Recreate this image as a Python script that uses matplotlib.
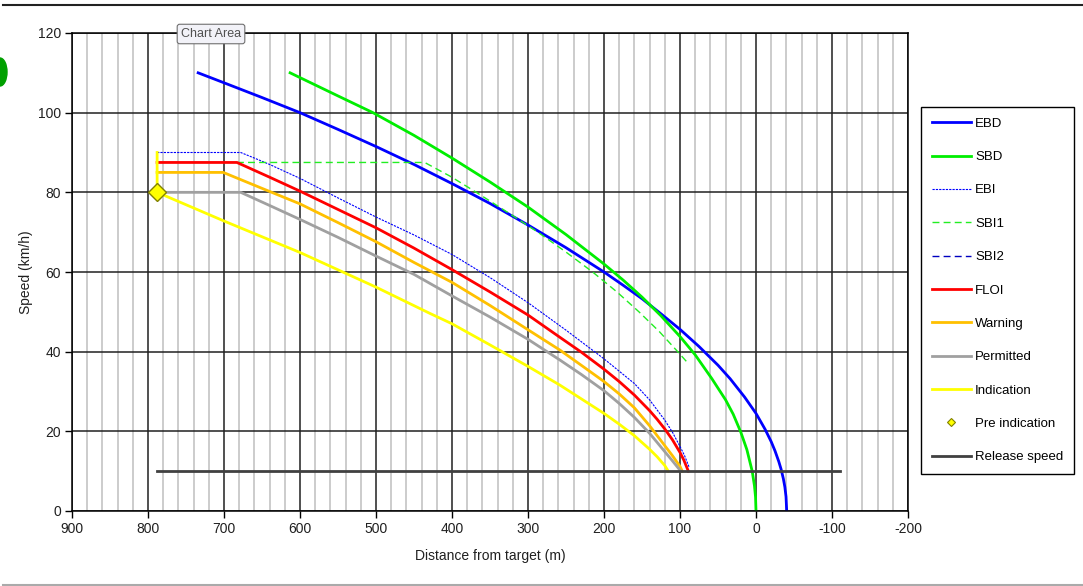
import matplotlib
matplotlib.use("Agg")
import matplotlib.pyplot as plt
from matplotlib.lines import Line2D
from matplotlib.patches import Ellipse
from matplotlib.ticker import MultipleLocator

plt.rcParams['font.family'] = ['Liberation Sans', 'DejaVu Sans']
plt.rcParams['axes.unicode_minus'] = False

# distance from target (m) / speed (km/h)
ebd_d = [734, 700, 650, 600, 550, 500, 450, 400, 350, 300, 250, 200, 175, 150, 125, 100, 75, 50, 34, 15, 0,
         -12, -20, -25, -30, -33, -36, -38, -39.5, -40.4]
ebd_v = [110, 107.5, 103.8, 100, 95.8, 91.5, 87, 82.2, 77.2, 71.8, 66.1, 60, 56.7, 53.3, 49.5, 45.6, 41.3, 36.6, 33.2,
         28.6, 24.5, 20.5, 17.4, 15.1, 12.4, 10.5, 8.1, 6, 3.6, 0]

sbd_d = [613, 600, 550, 504, 450, 400, 350, 300, 250, 200, 175, 150, 125, 100, 80, 58, 40, 30, 20, 12, 5, 2, 0.6, 0]
sbd_v = [110, 108.8, 104.2, 100, 94.3, 88.6, 82.6, 76.3, 69.4, 62, 58, 53.7, 49, 43.8, 39.2, 33.2, 27.9, 24.3, 19.8,
         15.4, 10, 6.3, 3.5, 0]

ebi_d = [788, 678, 660, 640, 600, 550, 500, 450, 400, 350, 300, 250, 200, 180, 160, 140, 120, 110, 100, 94, 88]
ebi_v = [90, 90, 88.6, 87, 83.5, 78.6, 73.8, 69.3, 64.4, 58.6, 52.3, 45.4, 38.2, 35.1, 32, 27.9, 22.8, 19.8, 16.2,
         13.9, 11]

sbi1_d = [683, 436, 402, 368, 327, 287, 250, 215, 183, 154, 127, 103, 89]
sbi1_v = [87.5, 87.5, 84, 80, 75, 70, 65, 60, 55, 50, 45, 40, 37]

sbi2_d = []
sbi2_v = []

floi_d = [788, 683, 640, 600, 550, 500, 450, 400, 350, 300, 258, 230, 200, 180, 160, 140, 130, 120, 110, 100, 95, 89]
floi_v = [87.5, 87.5, 83.8, 80.3, 75.7, 71.1, 66, 60.6, 55, 49.2, 43.6, 39.9, 35.6, 32.5, 29.1, 25.2, 23, 20.6, 17.9,
          14.7, 12.8, 10]

warn_d = [788, 701, 650, 600, 550, 500, 450, 400, 350, 300, 258, 230, 200, 180, 160, 140, 120, 110, 100, 97]
warn_v = [85, 85, 81, 77.1, 72.4, 67.6, 62.4, 57.4, 51.6, 45.5, 40.4, 36.6, 32.5, 29.4, 25.9, 21.4, 16.4, 13.9, 11.2, 10]

perm_d = [788, 678, 640, 600, 550, 500, 450, 400, 350, 300, 258, 230, 200, 180, 160, 140, 120, 110, 99]
perm_v = [80, 80, 76.7, 73.2, 68.7, 64, 59.4, 54, 48.7, 43.1, 37.9, 34.3, 30.2, 27, 23.5, 19.5, 14.9, 12.6, 10]

ind_d = [788, 788, 700, 600, 500, 429, 400, 350, 300, 258, 200, 180, 160, 140, 130, 120, 115.4]
ind_v = [90, 80, 72.8, 64.9, 56.2, 49.6, 47, 41.7, 36.3, 31.6, 24.5, 21.8, 18.9, 15.5, 13.6, 11.4, 10]

preind_d = [788]
preind_v = [80]

release_d = [788, -110]
release_v = [10, 10]

W, H = 1083, 586
fig = plt.figure(figsize=(W / 100, H / 100), dpi=100)
ax = fig.add_axes([72 / W, 75 / H, 836 / W, 478 / H])

lines = []
lines.append(ax.plot(ebd_d, ebd_v, color='#0000ff', lw=2, label='EBD')[0])
lines.append(ax.plot(sbd_d, sbd_v, color='#00ee00', lw=2, label='SBD')[0])
lines.append(ax.plot(ebi_d, ebi_v, color='#0000ff', lw=0.8, ls=(0, (2, 1)), label='EBI')[0])
lines.append(ax.plot(sbi1_d, sbi1_v, color='#22ee22', lw=1, ls=(0, (5, 3)), label='SBI1')[0])
lines.append(ax.plot(sbi2_d, sbi2_v, color='#0000c0', lw=1, ls=(0, (5, 3)), label='SBI2')[0])
lines.append(ax.plot(floi_d, floi_v, color='#ff0000', lw=2, label='FLOI')[0])
lines.append(ax.plot(warn_d, warn_v, color='#ffc000', lw=2, label='Warning')[0])
lines.append(ax.plot(perm_d, perm_v, color='#a0a0a0', lw=2, label='Permitted')[0])
lines.append(ax.plot(ind_d, ind_v, color='#ffff00', lw=2, label='Indication')[0])
ax.plot(preind_d, preind_v, ls='none', marker='D', markersize=9.5, mfc='#ffff00', mec='#808000', mew=1, zorder=5)
lines.append(Line2D([], [], ls='none', marker='D', markersize=4, mfc='#ffff00', mec='#808000', mew=0.8,
                    label='Pre indication'))
lines.append(ax.plot(release_d, release_v, color='#404040', lw=2, label='Release speed')[0])

ax.set_xlim(900, -200)
ax.set_ylim(0, 120)
ax.xaxis.set_major_locator(MultipleLocator(100))
ax.xaxis.set_minor_locator(MultipleLocator(20))
ax.yaxis.set_major_locator(MultipleLocator(20))
ax.set_axisbelow(True)
ax.grid(which='major', color='#202020', lw=1.1)
ax.grid(which='minor', axis='x', color='#c8c8c8', lw=1.3)
ax.tick_params(which='major', direction='out', length=5, width=1, labelsize=10, labelcolor='#202020', pad=3)
ax.tick_params(which='minor', length=0)
for s in ax.spines.values():
    s.set_color('#000000')
    s.set_linewidth(1.1)

ax.set_xlabel('Distance from target (m)', fontsize=10, color='#202020', labelpad=9)
ax.set_ylabel('Speed (km/h)', fontsize=10, color='#202020', labelpad=3)

leg = fig.legend(handles=lines, labels=[l.get_label() for l in lines], loc='upper left',
                 bbox_to_anchor=(921 / W, 1 - 107 / H), borderaxespad=0, fontsize=9.5,
                 labelspacing=1.6, handlelength=3.0, handletextpad=0.3, borderpad=0.8,
                 fancybox=False, framealpha=1, edgecolor='#000000')
leg.get_frame().set_linewidth(1)

# screenshot leftovers: tooltip, window edges, green blob at left edge
fig.text(211 / W, 1 - 34 / H, 'Chart Area', ha='center', va='center', fontsize=9, color='#505050',
         bbox=dict(boxstyle='round,pad=0.3,rounding_size=0.2', fc='#f2f2f8', ec='#707070', lw=0.8))
fig.add_artist(Line2D([3 / W, 1], [1 - 5 / H] * 2, transform=fig.transFigure, color='#222222', lw=1.5))
fig.add_artist(Line2D([3 / W, 1], [1.5 / H] * 2, transform=fig.transFigure, color='#aaaaaa', lw=1.5))
fig.add_artist(Ellipse((0, 1 - 72 / H), 14 / W, 28 / H, transform=fig.transFigure, color='#00a000'))

fig.savefig('out.png', dpi=100)
